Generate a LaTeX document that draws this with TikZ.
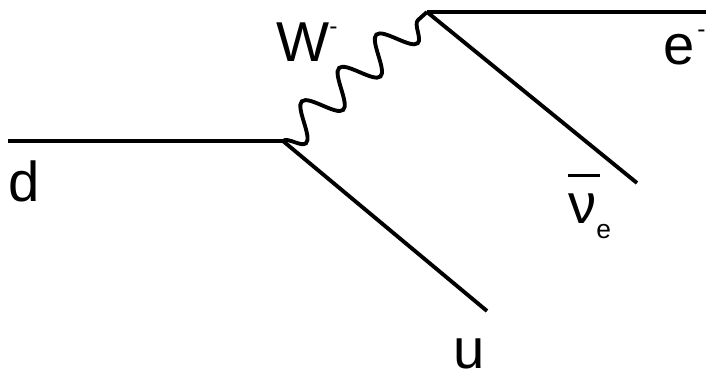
\documentclass[tikz,border=0pt]{standalone}
\usepackage{fontspec}
\setmainfont{Liberation Sans}
\usetikzlibrary{decorations.pathmorphing}
\tikzset{
  fermion/.style={line width=2.2pt},
  boson/.style={line width=2.2pt, decorate,
    decoration={snake, segment length=1cm, amplitude=0.34cm, mirror}},
  lbl/.style={font=\fontsize{32}{32}\selectfont, inner sep=0pt, anchor=base west}
}
\newcommand{\supminus}{\raisebox{15.5pt}{\fontsize{14}{14}\selectfont -}}

\begin{document}
\begin{tikzpicture}[x=0.02cm, y=-0.02cm]
        \useasboundingbox (0,0) rectangle (706,375);
        % vertices and free ends
        \coordinate (vtxa) at (283,141);
        \coordinate (vtxb) at (427,12);
        \coordinate (din) at (8,141);
        \coordinate (uout) at (487,311);
        \coordinate (eout) at (706,12);
        \coordinate (nuout) at (637,183);
        \draw[fermion] (din) -- (vtxa);
        \draw[fermion] (vtxa) -- (uout);
        \draw[boson] (vtxa) -- (vtxb);
        \draw[fermion] (vtxb) -- (eout);
        \draw[fermion] (vtxb) -- (nuout);
        % labels
        \node[lbl] (dlbl) at (8,201) {d};
        \node[lbl] (ulbl) at (453,368) {u};
        \node[lbl] (wlbl) at (276,62) {W\supminus};
        \node[lbl] (elbl) at (663,65) {e\kern1.5pt\supminus};
        \node[lbl] (nulbl) at (568,223) {\makebox[0pt][l]{\raisebox{26pt}{\rule{18pt}{1.7pt}}}ν\raisebox{-9pt}{\fontsize{15}{15}\selectfont e}};
      \end{tikzpicture}
\end{document}
